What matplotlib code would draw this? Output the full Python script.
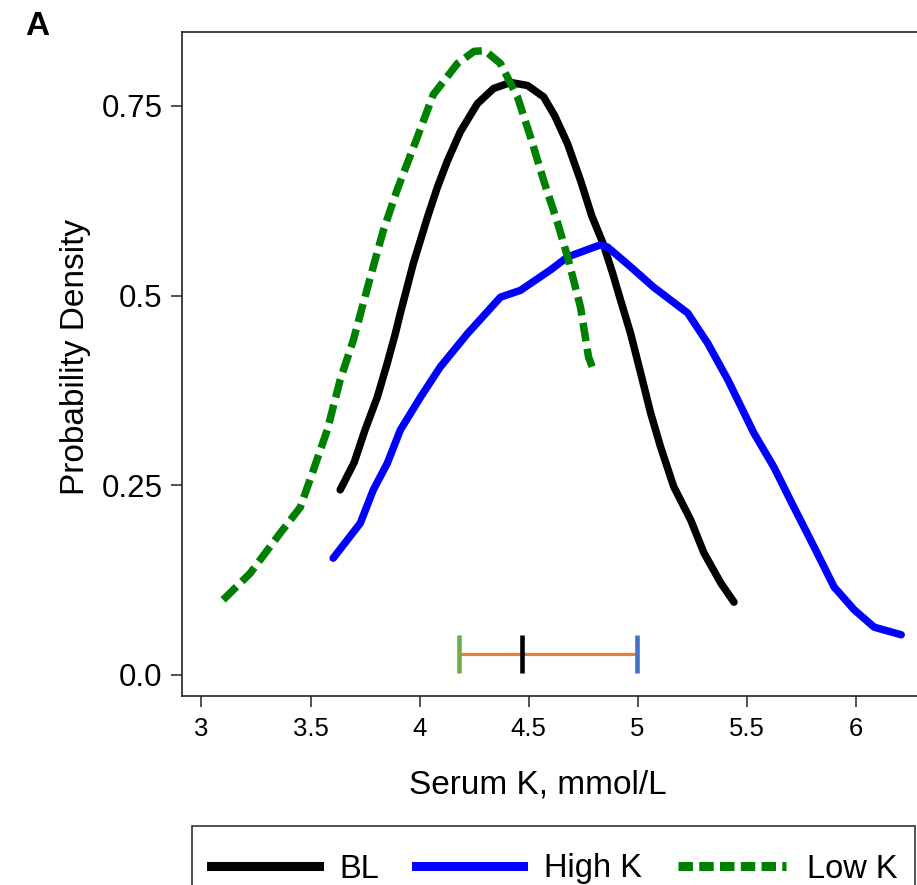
import matplotlib
matplotlib.use("Agg")
import matplotlib.pyplot as plt
from matplotlib.lines import Line2D
from matplotlib.patches import Rectangle

plt.rcParams['font.family'] = ['Liberation Sans', 'DejaVu Sans']

# ---- data ----
bl_x = [3.636, 3.70, 3.75, 3.806, 3.852, 3.889, 3.912, 3.972, 4.036, 4.082, 4.127, 4.187,
        4.265, 4.339, 4.417, 4.495, 4.569, 4.62, 4.679, 4.738, 4.79, 4.84, 4.885, 4.922,
        4.968, 5.014, 5.06, 5.106, 5.166, 5.244, 5.304, 5.382, 5.442]
bl_y = [0.244, 0.28, 0.323, 0.366, 0.411, 0.45, 0.477, 0.543, 0.603, 0.643, 0.677, 0.716,
        0.753, 0.773, 0.781, 0.777, 0.762, 0.737, 0.700, 0.652, 0.605, 0.570, 0.530, 0.494,
        0.45, 0.398, 0.345, 0.300, 0.248, 0.204, 0.161, 0.121, 0.096]

high_x = [3.604, 3.728, 3.788, 3.852, 3.912, 4.004, 4.095, 4.22, 4.371, 4.463, 4.601, 4.679,
          4.83, 4.862, 4.968, 5.074, 5.23, 5.322, 5.414, 5.533, 5.625, 5.717, 5.809, 5.901,
          5.993, 6.085, 6.209]
high_y = [0.154, 0.2, 0.244, 0.279, 0.323, 0.366, 0.406, 0.45, 0.498, 0.507, 0.534, 0.551,
          0.567, 0.564, 0.538, 0.511, 0.477, 0.437, 0.389, 0.319, 0.274, 0.221, 0.169, 0.116,
          0.086, 0.063, 0.053]

low_x = [3.099, 3.223, 3.361, 3.453, 3.513, 3.577, 3.636, 3.696, 3.774, 3.834, 3.898, 3.99,
         4.063, 4.174, 4.25, 4.30, 4.371, 4.449, 4.509, 4.569, 4.633, 4.679, 4.738, 4.775, 4.80]
low_y = [0.099, 0.134, 0.187, 0.221, 0.27, 0.323, 0.389, 0.441, 0.524, 0.586, 0.640, 0.709,
         0.765, 0.806, 0.822, 0.823, 0.806, 0.762, 0.709, 0.652, 0.596, 0.551, 0.485, 0.419, 0.400]

# range bar (Low K mean, BL mean, High K mean)
bar_y = 0.0277
bar_low = 4.183
bar_mid = 4.468
bar_high = 4.996
tick_half = 0.025

series_labels = ['BL', 'High K', 'Low K']
xticks = [3, 3.5, 4, 4.5, 5, 5.5, 6]
xtick_labels = ['3', '3.5', '4', '4.5', '5', '5.5', '6']
yticks = [0.0, 0.25, 0.5, 0.75]
ytick_labels = ['0.0', '0.25', '0.5', '0.75']

W, H = 917, 885
AX_L, AX_R, AX_T, AX_B = 182, 925, 32, 696
fig = plt.figure(figsize=(W / 100, H / 100), dpi=100)
ax = fig.add_axes([AX_L / W, 1 - AX_B / H, (AX_R - AX_L) / W, (AX_B - AX_T) / H])

lw = 5.4
ax.plot(bl_x, bl_y, color='black', lw=lw, solid_capstyle='round', solid_joinstyle='round')
ax.plot(high_x, high_y, color='#0000FF', lw=lw, solid_capstyle='round', solid_joinstyle='round')
ax.plot(low_x, low_y, color='#008000', lw=lw, dashes=(2.5, 1.0), dash_joinstyle='round')

ax.plot([bar_low, bar_high], [bar_y, bar_y], color='#ED7D31', lw=2.3, solid_capstyle='butt')
ax.plot([bar_low, bar_low], [bar_y - tick_half, bar_y + tick_half], color='#70AD47', lw=3.3, solid_capstyle='butt')
ax.plot([bar_mid, bar_mid], [bar_y - tick_half, bar_y + tick_half], color='black', lw=3.3, solid_capstyle='butt')
ax.plot([bar_high, bar_high], [bar_y - tick_half, bar_y + tick_half], color='#4472C4', lw=3.3, solid_capstyle='butt')

ax.set_xlim(2.9106, 6.318)
ax.set_ylim(-0.0277, 0.8475)
ax.set_xticks(xticks)
ax.set_xticklabels(xtick_labels)
ax.set_yticks(yticks)
ax.set_yticklabels(ytick_labels)
ax.tick_params(axis='both', direction='out', length=8, width=1.1, color='#222222')
ax.tick_params(axis='y', pad=6, labelsize=22.5)
ax.tick_params(axis='x', pad=7, labelsize=18.5)
for s in ['left', 'bottom', 'top']:
    ax.spines[s].set_linewidth(1.2)
    ax.spines[s].set_color('#222222')
ax.spines['right'].set_visible(False)

axw, axh = AX_R - AX_L, AX_B - AX_T
ax.set_xlabel('Serum K, mmol/L', fontsize=24)
ax.xaxis.set_label_coords((538 - AX_L) / axw, (AX_B - 770) / axh)
ax.set_ylabel('Probability Density', fontsize=24)
ax.yaxis.set_label_coords((91 - AX_L) / axw, (AX_B - 357) / axh)

fig.text(25 / W, 1 - 35 / H, 'A', fontsize=24, fontweight='bold', va='baseline', ha='left')

# legend box
fig.patches.append(Rectangle((192 / W, -0.05), (915 - 192) / W, (1 - 826 / H) + 0.05,
                             transform=fig.transFigure, fill=False, edgecolor='#333333', lw=1.2))
handles = [Line2D([], [], color='black', lw=6.5),
           Line2D([], [], color='#0000FF', lw=6.5),
           Line2D([], [], color='#008000', lw=6.5, dashes=(1.6, 0.7))]
fig.legend(handles, series_labels, loc='center left', bbox_to_anchor=(188 / W, 1 - 869 / H),
           ncol=3, frameon=False, fontsize=23.5, handlelength=3.3, handletextpad=0.65,
           columnspacing=1.1, borderpad=0.2)

fig.savefig('out.png', dpi=100)
